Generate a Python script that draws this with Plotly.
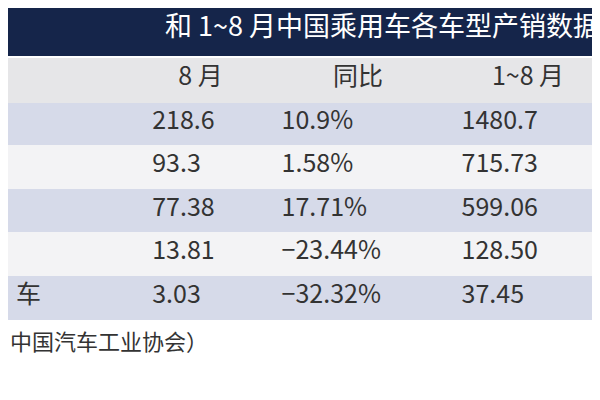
import plotly.graph_objects as go

title = "和 1~8 月中国乘用车各车型产销数据"
headers = ["", "8 月", "同比", "1~8 月"]
labels = ["", "", "", "", "车"]
aug = ["218.6", "93.3", "77.38", "13.81", "3.03"]
yoy = ["10.9%", "1.58%", "17.71%", "−23.44%", "−32.32%"]
ytd = ["1480.7", "715.73", "599.06", "128.50", "37.45"]
source = "中国汽车工业协会）"

font = "Noto Sans CJK SC"
blue, white = "#d6dae9", "#f3f3f5"
fills = [blue, white, blue, white, blue]

fig = go.Figure()
fig.add_trace(go.Table(
    domain=dict(x=[0, 1], y=[0.86, 1.0]),
    header=dict(values=[title], height=48, fill_color="#15254a",
                line=dict(color="#15254a", width=0), align="right",
                font=dict(family=font, size=27, color="white")),
    cells=dict(values=[[]], height=1),
))
fig.add_trace(go.Table(
    domain=dict(x=[0, 1], y=[0.2, 0.875]),
    columnwidth=[125, 135, 180, 160],
    header=dict(values=headers, height=44, fill_color="#e6e6e8",
                line=dict(color="#e6e6e8", width=1),
                align=["left", "center", "center", "center"],
                font=dict(family=font, size=25, color="#333")),
    cells=dict(values=[labels, ["  " + v for v in aug], [" " + v for v in yoy], [" " + v for v in ytd]],
               height=43.5, fill_color=[fills] * 4,
               line=dict(color=[fills] * 4, width=1),
               align=["left", "left", "left", "left"],
               font=dict(family=font, size=25, color="#333")),
))
fig.add_annotation(text=source, xref="paper", yref="paper", x=0.0, y=0.125, xanchor="left",
                   showarrow=False, font=dict(family=font, size=22, color="#333"))
fig.update_layout(width=600, height=400, margin=dict(l=0, r=0, t=0, b=0),
                  paper_bgcolor="white")
fig.write_html("out.html")
